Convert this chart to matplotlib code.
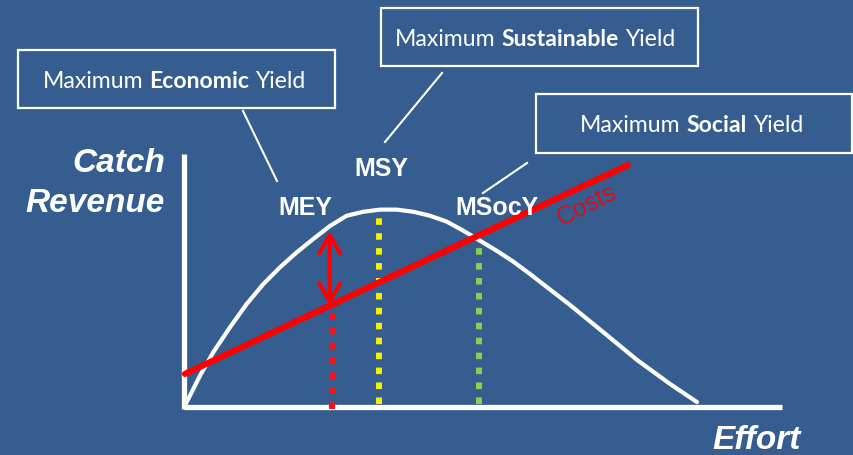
import matplotlib.pyplot as plt
import numpy as np
from matplotlib.patches import Rectangle
from matplotlib.transforms import Affine2D

# catch / revenue curve (effort 0-100, peak catch = 100)
effort = [0, 0.84, 3.12, 5.71, 8.97, 12.22, 15.46, 18.71, 21.97, 25.20,
          28.46, 31.72, 34.95, 38.21, 41.46, 44.70, 47.95, 51.21, 54.44,
          57.70, 60.96, 64.19, 67.45, 75.24, 81.68, 88.30, 94.74, 100]
catch = [0, 4.1, 15.9, 27.8, 40.5, 52.3, 62.4, 70.9, 78.5, 85.3,
         91.9, 97.1, 99.1, 100.2, 100.2, 99.1, 97.1, 94.1, 89.5,
         84.4, 79.3, 73.8, 67.5, 51.8, 38.1, 23.9, 11.7, 2.5]

# costs line end points
cost_effort = [0.2, 86.5]
cost_value = [16.8, 122.8]

# effort levels of the three reference points
mey_effort = 28.8
msy_effort = 38.0
msocy_effort = 57.5
arrow_top = 89.3

axis_x_end = 116.6
axis_y_end = 128.4

BG = '#355d8f'
W, H = 854, 456

fig = plt.figure(figsize=(W / 100, H / 100), dpi=100, facecolor=BG)
ax = fig.add_axes([0, 0, 1, 1])
ax.set_facecolor(BG)
ax.set_xlim(-184 / 5.13, (W - 184) / 5.13)
ax.set_ylim((408 - H) / 1.97, 408 / 1.97)
ax.axis('off')

# pixel coordinates (y down) for the text boxes and labels
px = Affine2D().scale(1 / W, -1 / H).translate(0, 1) + fig.transFigure

# axes
ax.plot([0, 0], [-1, axis_y_end], color='white', lw=3.8, solid_capstyle='butt')
ax.plot([0, axis_x_end], [0, 0], color='white', lw=3.8, solid_capstyle='butt')

# curve
ax.plot(effort, catch, color='white', lw=3.0, solid_joinstyle='round',
        solid_capstyle='round')

# dotted effort markers
msy_top = np.interp(msy_effort, effort, catch)
msocy_top = np.interp(msocy_effort, effort, catch)
mey_cost = np.interp(mey_effort, cost_effort, cost_value)
dots = (0, (1.1, 1.4))
ax.plot([mey_effort, mey_effort], [-1, mey_cost], color='#ff1010', lw=4.3,
        linestyle=dots, dash_capstyle='butt')
ax.plot([msy_effort, msy_effort], [1.5, msy_top - 1], color='#f5f000', lw=4.3,
        linestyle=dots, dash_capstyle='butt')
ax.plot([msocy_effort, msocy_effort], [1.5, msocy_top - 2], color='#8ccf4e',
        lw=4.3, linestyle=dots, dash_capstyle='butt')

# costs line
ax.plot(cost_effort, cost_value, color='#ff0000', lw=4.5, solid_capstyle='round')

# profit arrow
arrow_x = mey_effort - 0.4
ax.annotate('', xy=(arrow_x, arrow_top),
            xytext=(arrow_x, np.interp(arrow_x, cost_effort, cost_value)),
            arrowprops=dict(arrowstyle='<->,head_length=1.3,head_width=0.75',
                            color='#ff0000', lw=3.0, shrinkA=0, shrinkB=0))

# labels
bold = dict(color='white', fontweight='bold', family='Liberation Sans',
            transform=px, ha='center', va='center')
ax.text(305, 208, 'MEY', fontsize=18, **bold)
ax.text(381, 169, 'MSY', fontsize=18, **bold)
ax.text(497, 208, 'MSocY', fontsize=18, **bold)

ax.text(587, 205, 'Costs', color='#d4111c', fontsize=18, rotation=27,
        family='Liberation Sans', transform=px, ha='center', va='center')

italic = dict(color='white', fontweight='bold', style='italic',
              family='Liberation Sans', transform=px, fontsize=24)
ax.text(165, 172, 'Catch', ha='right', va='baseline', **italic)
ax.text(165, 212, 'Revenue', ha='right', va='baseline', **italic)
ax.text(757, 449, 'Effort', ha='center', va='baseline', **italic)

# boxes with leader lines
renderer = fig.canvas.get_renderer()
box_fs = 16.6


def width(s, weight='normal'):
    t = ax.text(0, 0, s, fontsize=box_fs, family='Lato', fontweight=weight)
    w = t.get_window_extent(renderer).width
    t.remove()
    return w


space = width('a a') - width('aa')

boxes = [
    ((18, 51, 335, 109), 43, 87.5, 'Economic', ((243, 112), (277, 182))),
    ((381, 9, 698, 67), 395, 46.5, 'Sustainable', ((442, 74), (385, 143))),
    ((536, 95, 852, 154), 580, 132.5, 'Social', ((527, 164), (483, 194))),
]
for (x0, y0, x1, y1), tx, ty, word, (p0, p1) in boxes:
    ax.add_patch(Rectangle((x0, y0), x1 - x0, y1 - y0, transform=px,
                           fill=False, edgecolor='white', lw=1.6))
    x = tx
    for part, weight in [('Maximum', 'normal'), (word, 'bold'), ('Yield', 'normal')]:
        ax.text(x, ty, part, color='white', fontsize=box_fs, family='Lato',
                fontweight=weight, transform=px, ha='left', va='baseline')
        x += width(part, weight) + space
    ax.plot([p0[0], p1[0]], [p0[1], p1[1]], color='white', lw=1.5, transform=px)

fig.savefig('out.png', dpi=100, facecolor=BG)
